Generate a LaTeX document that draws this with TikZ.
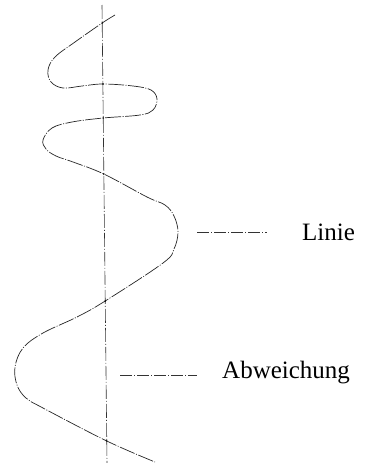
\documentclass[tikz,border=0pt]{standalone}
\usepackage{fontspec}
\setmainfont{Liberation Serif}
\begin{document}
\begin{tikzpicture}[x=1pt,y=-1pt,
  axisline/.style={line width=0.6pt, dash pattern=on 14pt off 2pt on 1pt off 2pt, black!80},
  curveline/.style={line width=0.7pt, dash pattern=on 16pt off 1.5pt on 1pt off 1.5pt, black!85},
  leader/.style={line width=0.6pt, dash pattern=on 12pt off 2pt on 1pt off 2pt, black!80},
  lbl/.style={font=\fontsize{25}{28}\selectfont, anchor=west, inner sep=0pt},
  dotmark/.style={circle, fill=black, inner sep=0pt, minimum size=1.8pt}]
\useasboundingbox (0,0) rectangle (364,463);
% axis
\coordinate (atop) at (102,5);
\coordinate (abot) at (107,463);
\draw[axisline] (atop) -- (abot);
% curve
\draw[curveline] plot[smooth, tension=0.6] coordinates {
 (115,15) (102.2,23) (75,42) (55,57) (48,70) (51,82) (63,88) (82,86) (102.9,84)
 (133,86) (151,90) (157,99) (153,110) (140,115) (103.2,118) (72,122) (52,128)
 (43,140) (46,149) (56,156) (73,162) (103.8,174) (147,197) (165,205) (174,216) (178,232) (174,249)
 (163,263) (105.2,301) (77,317) (43,333) (23,348) (15,367) (17,385) (26,398)
 (43,408) (106.8,441) (155,462)};
% crossing marks
\foreach \n/\x/\y in {c1/102.2/23,c2/102.9/84,c3/103.2/118,c4/103.8/174,c5/105.2/301,c6/106.8/441}
  \node[dotmark] (\n) at (\x,\y) {};
% labels
\node[lbl] (linie) at (302,232) {Linie};
\node[lbl] (abw) at (222,373) {Abweichung};
\coordinate (l1) at (197,232);
\coordinate (l1e) at (267,232);
\coordinate (l2) at (120,375);
\coordinate (l2e) at (197,375);
\draw[leader] (l1) -- (l1e);
\draw[leader] (l2) -- (l2e);
\end{tikzpicture}
\end{document}
